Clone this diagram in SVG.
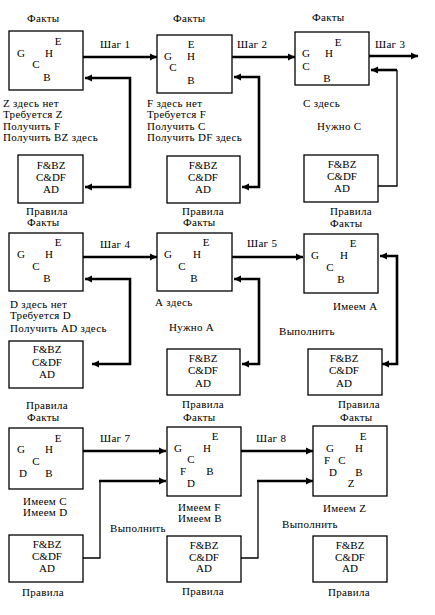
<svg xmlns="http://www.w3.org/2000/svg" width="435" height="615" viewBox="0 0 435 615">
<defs>
<marker id="ah" markerUnits="userSpaceOnUse" markerWidth="8" markerHeight="8" refX="7" refY="4" orient="auto-start-reverse"><path d="M0,0.5 L7,4 L0,7.5 z" fill="#000"/></marker>
<style>
text{font-family:"Liberation Serif","Times New Roman",serif;font-size:11px;fill:#000;letter-spacing:0.3px}
.m{text-anchor:middle;letter-spacing:0}
.box{fill:#fff;stroke:#000;stroke-width:1.3}
.th{fill:none;stroke:#000;stroke-width:2.6}
.tn{fill:none;stroke:#000;stroke-width:1.3}
.a{marker-end:url(#ah)}
.b{marker-start:url(#ah);marker-end:url(#ah)}
</style>
</defs>
<rect width="435" height="615" fill="#fff"/>

<g id="connectors">
<path class="th a" d="M83,57 H157"/>
<path class="th b" d="M85,78 H130 V187 H85"/>
<path class="th a" d="M232,57 H295"/>
<path class="th b" d="M234,77 H259 V187 H242"/>
<path class="th a" d="M369,56 H418"/>
<path class="th a" d="M397,70 H371"/>
<path class="tn" d="M397,70 V186 H378"/>
<path class="th a" d="M83,257 H157"/>
<path class="th b" d="M85,279 H130 V364 H92"/>
<path class="th a" d="M232,257 H303"/>
<path class="th b" d="M234,279 H259 V364 H242"/>
<path class="th b" d="M380,256 H397 V364 H382"/>
<path class="th a" d="M83,451 H166"/>
<path class="tn" d="M83,558 H100 V481"/>
<path class="th a" d="M99,481 H166"/>
<path class="th a" d="M241,451 H313"/>
<path class="tn" d="M241,558 H258 V481"/>
<path class="th a" d="M257,481 H313"/>
</g>

<g id="labels">
<text x="100" y="48">Шаг 1</text>
<text x="237" y="48">Шаг 2</text>
<text x="375" y="48">Шаг 3</text>
<text x="100" y="248">Шаг 4</text>
<text x="247" y="247">Шаг 5</text>
<text x="100" y="442">Шаг 7</text>
<text x="256" y="442">Шаг 8</text>
<text x="279" y="335">Выполнить</text>
<text x="110" y="532">Выполнить</text>
<text x="282" y="528">Выполнить</text>
</g>

<g id="facts1">
<text x="27" y="22">Факты</text>
<rect class="box" x="9" y="31" width="74" height="59"/>
<text class="m" x="58" y="45">E</text><text class="m" x="21" y="57">G</text><text class="m" x="49" y="57">H</text><text class="m" x="36" y="68">C</text><text class="m" x="47" y="81">B</text>
<text x="3" y="107">Z здесь нет</text><text x="3" y="118">Требуется Z</text><text x="3" y="130">Получить F</text><text x="3" y="141">Получить BZ здесь</text>
</g>
<g id="rules1">
<rect class="box" x="18" y="155" width="65" height="48"/>
<text class="m" x="51" y="169">F&amp;BZ</text><text class="m" x="51" y="181">C&amp;DF</text><text class="m" x="51" y="193">AD</text>
<text x="26" y="215">Правила</text>
</g>

<g id="facts2">
<text x="173" y="22">Факты</text>
<rect class="box" x="157" y="35" width="75" height="58"/>
<text class="m" x="191" y="48">E</text><text class="m" x="168" y="60">G</text><text class="m" x="191" y="60">H</text><text class="m" x="173" y="71">C</text><text class="m" x="191" y="84">B</text>
<text x="147" y="107">F здесь нет</text><text x="147" y="118">Требуется F</text><text x="147" y="130">Получить C</text><text x="147" y="141">Получить DF здесь</text>
</g>
<g id="rules2">
<rect class="box" x="167" y="156" width="73" height="47"/>
<text class="m" x="203" y="169">F&amp;BZ</text><text class="m" x="203" y="181">C&amp;DF</text><text class="m" x="203" y="193">AD</text>
<text x="182" y="215">Правила</text>
</g>

<g id="facts3">
<text x="312" y="21">Факты</text>
<rect class="box" x="295" y="32" width="74" height="53"/>
<text class="m" x="338" y="46">E</text><text class="m" x="306" y="57">G</text><text class="m" x="329" y="57">H</text><text class="m" x="306" y="70">C</text><text class="m" x="327" y="82">B</text>
<text x="303" y="107">С здесь</text><text x="317" y="130">Нужно С</text>
</g>
<g id="rules3">
<rect class="box" x="304" y="155" width="74" height="47"/>
<text class="m" x="342" y="168">F&amp;BZ</text><text class="m" x="342" y="180">C&amp;DF</text><text class="m" x="342" y="192">AD</text>
<text x="330" y="215">Правила</text>
</g>

<g id="facts4">
<text x="27" y="226">Факты</text>
<rect class="box" x="9" y="233" width="74" height="58"/>
<text class="m" x="58" y="246">E</text><text class="m" x="21" y="258">G</text><text class="m" x="49" y="258">H</text><text class="m" x="36" y="270">C</text><text class="m" x="47" y="282">B</text>
<text x="10" y="308">D здесь нет</text><text x="10" y="319">Требуется D</text><text x="10" y="332">Получить AD здесь</text>
</g>
<g id="rules4">
<rect class="box" x="9" y="341" width="74" height="47"/>
<text class="m" x="47" y="353">F&amp;BZ</text><text class="m" x="47" y="366">C&amp;DF</text><text class="m" x="47" y="378">AD</text>
<text x="26" y="409">Правила</text>
</g>

<g id="facts5">
<text x="183" y="226">Факты</text>
<rect class="box" x="157" y="233" width="75" height="58"/>
<text class="m" x="206" y="246">E</text><text class="m" x="168" y="258">G</text><text class="m" x="197" y="258">H</text><text class="m" x="182" y="270">C</text><text class="m" x="194" y="282">B</text>
<text x="155" y="306">А здесь</text><text x="169" y="331">Нужно А</text>
</g>
<g id="rules5">
<rect class="box" x="167" y="349" width="73" height="46"/>
<text class="m" x="203" y="362">F&amp;BZ</text><text class="m" x="203" y="374">C&amp;DF</text><text class="m" x="203" y="387">AD</text>
<text x="182" y="408">Правила</text>
</g>

<g id="facts6">
<text x="330" y="227">Факты</text>
<rect class="box" x="304" y="234" width="74" height="59"/>
<text class="m" x="353" y="247">E</text><text class="m" x="315" y="259">G</text><text class="m" x="344" y="259">H</text><text class="m" x="330" y="271">C</text><text class="m" x="341" y="283">B</text>
<text x="333" y="310">Имеем  А</text>
</g>
<g id="rules6">
<rect class="box" x="308" y="349" width="74" height="46"/>
<text class="m" x="344" y="362">F&amp;BZ</text><text class="m" x="344" y="374">C&amp;DF</text><text class="m" x="344" y="387">AD</text>
<text x="338" y="408">Правила</text>
</g>

<g id="facts7">
<text x="27" y="421">Факты</text>
<rect class="box" x="9" y="428" width="74" height="61"/>
<text class="m" x="58" y="442">E</text><text class="m" x="21" y="453">G</text><text class="m" x="49" y="453">H</text><text class="m" x="36" y="465">C</text><text class="m" x="23" y="477">D</text><text class="m" x="49" y="477">B</text>
<text x="23" y="505">Имеем C</text><text x="23" y="516">Имеем D</text>
</g>
<g id="rules7">
<rect class="box" x="9" y="535" width="74" height="47"/>
<text class="m" x="47" y="548">F&amp;BZ</text><text class="m" x="47" y="560">C&amp;DF</text><text class="m" x="47" y="572">AD</text>
<text x="22" y="596">Правила</text>
</g>

<g id="facts8">
<text x="183" y="421">Факты</text>
<rect class="box" x="167" y="427" width="74" height="69"/>
<text class="m" x="215" y="440">E</text><text class="m" x="178" y="452">G</text><text class="m" x="207" y="452">H</text><text class="m" x="191" y="463">C</text><text class="m" x="183" y="475">F</text><text class="m" x="210" y="475">B</text><text class="m" x="191" y="487">D</text>
<text x="178" y="511">Имеем F</text><text x="178" y="522">Имеем B</text>
</g>
<g id="rules8">
<rect class="box" x="167" y="536" width="74" height="46"/>
<text class="m" x="204" y="549">F&amp;BZ</text><text class="m" x="204" y="561">C&amp;DF</text><text class="m" x="204" y="572">AD</text>
<text x="182" y="595">Правила</text>
</g>

<g id="facts9">
<text x="340" y="421">Факты</text>
<rect class="box" x="313" y="426" width="74" height="70"/>
<text class="m" x="363" y="440">E</text><text class="m" x="330" y="452">G</text><text class="m" x="359" y="452">H</text><text class="m" x="327" y="464">F</text><text class="m" x="342" y="464">C</text><text class="m" x="333" y="476">D</text><text class="m" x="359" y="476">B</text><text class="m" x="351" y="487">Z</text>
<text x="323" y="512">Имеем Z</text>
</g>
<g id="rules9">
<rect class="box" x="313" y="536" width="74" height="46"/>
<text class="m" x="350" y="549">F&amp;BZ</text><text class="m" x="350" y="561">C&amp;DF</text><text class="m" x="350" y="572">AD</text>
<text x="328" y="596">Правила</text>
</g>
</svg>
